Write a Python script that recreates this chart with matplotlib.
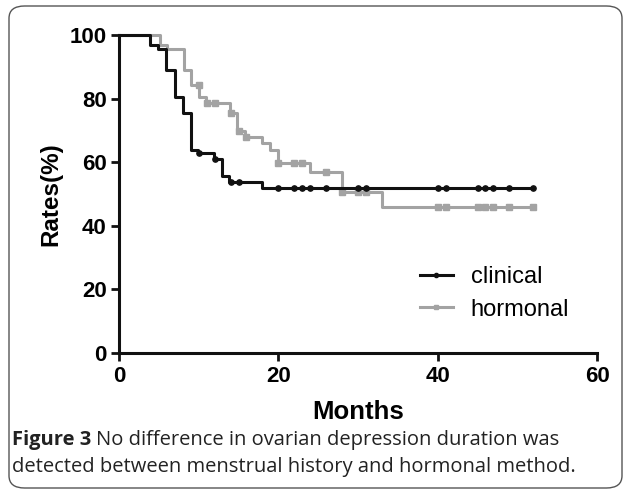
import numpy as np
import matplotlib
matplotlib.use("Agg")
import matplotlib.pyplot as plt
from matplotlib.patches import FancyBboxPatch
from matplotlib.lines import Line2D

# Kaplan-Meier step data (months, %)
clin_times = [0, 3.9, 4.9, 5.9, 7.0, 8.0, 9.0, 9.9, 11.9, 12.9, 13.8, 17.9, 52.0]
clin_surv = [100, 97.0, 95.5, 89.0, 80.6, 75.6, 63.8, 62.8, 60.9, 55.6, 53.9, 52.0, 52.0]
clin_censored = [10, 12, 14, 15, 20, 22, 23, 24, 26, 30, 31, 40, 41, 45, 46, 47, 49, 52]

horm_times = [0, 5.1, 6.0, 8.1, 9.1, 10.1, 10.9, 13.9, 14.8, 15.8, 17.9, 18.9,
              20.0, 24.0, 28.0, 33.0, 52.0]
horm_surv = [100, 97.0, 95.5, 89.0, 84.3, 80.6, 78.7, 75.4, 69.8, 68.0, 65.9, 63.8,
             59.6, 57.0, 50.7, 46.0, 46.0]
horm_censored = [10, 11, 12, 14, 15, 16, 20, 22, 23, 26, 28, 30, 31, 40, 41, 45, 46, 47, 49, 52]

x_ticks = [0, 20, 40, 60]
y_ticks = [0, 20, 40, 60, 80, 100]


def step_value(times, surv, t):
   # value of a right-continuous step curve at time t
   idx = np.searchsorted(times, t, side="right") - 1
   return np.asarray(surv)[idx]


plt.rcParams["font.family"] = ["Liberation Sans", "DejaVu Sans"]

fig = plt.figure(figsize=(6.25, 4.92), dpi=100)
ax = fig.add_axes([119 / 625, 1 - 353 / 492, (597 - 119) / 625, (353 - 35) / 492])

black = "#111111"
grey = "#a3a3a3"

# hormonal drawn first, clinical on top
ax.step(horm_times, horm_surv, where="post", color=grey, lw=2.2, clip_on=False, zorder=2)
ax.plot(horm_censored, step_value(horm_times, horm_surv, horm_censored),
        ls="none", marker="s", ms=3.8, color=grey, clip_on=False, zorder=2)

ax.step(clin_times, clin_surv, where="post", color=black, lw=2.2, clip_on=False, zorder=3)
ax.plot(clin_censored, step_value(clin_times, clin_surv, clin_censored),
        ls="none", marker="o", ms=3.8, color=black, clip_on=False, zorder=3)

ax.set_xlim(0, 60)
ax.set_ylim(0, 100)
ax.set_xticks(x_ticks)
ax.set_yticks(y_ticks)
ax.tick_params(width=2.0, length=6, labelsize=16, pad=3, color=black)
for lbl in ax.get_xticklabels() + ax.get_yticklabels():
   lbl.set_fontweight("bold")

for side in ["top", "right"]:
   ax.spines[side].set_visible(False)
for side in ["left", "bottom"]:
   ax.spines[side].set_linewidth(2.2)
   ax.spines[side].set_color(black)

ax.set_xlabel("Months", fontsize=18.5, fontweight="bold", labelpad=10)
ax.set_ylabel("Rates(%)", fontsize=17.5, fontweight="bold", labelpad=5)

handles = [
   Line2D([], [], color=black, lw=2.2, marker="o", ms=3),
   Line2D([], [], color=grey, lw=2.2, marker="s", ms=3),
]
ax.legend(handles, ["clinical", "hormonal"], loc="upper left",
          bbox_to_anchor=(0.585, 0.34), frameon=False, fontsize=17,
          handlelength=1.4, handletextpad=0.75, labelspacing=0.45)

# rounded border around the figure panel
fig.patches.append(FancyBboxPatch(
   (9 / 625, 4 / 492), 613 / 625, 482 / 492,
   boxstyle="round,pad=0,rounding_size=0.025",
   transform=fig.transFigure, fill=False, ec="#555555", lw=1.0))

# caption
cap_font = ["Open Sans", "DejaVu Sans"]
cap_size = 14.5
t = fig.text(12 / 625, 1 - 440 / 492, "Figure 3", fontsize=cap_size, fontweight="bold",
             family=cap_font, color="#222222", va="center")
fig.canvas.draw()
bb = t.get_window_extent()
fig.text(bb.x1 / 625 + 0.008, 1 - 440 / 492,
         "No difference in ovarian depression duration was",
         fontsize=cap_size, family=cap_font, color="#222222", va="center")
fig.text(12 / 625, 1 - 467 / 492,
         "detected between menstrual history and hormonal method.",
         fontsize=cap_size, family=cap_font, color="#222222", va="center")

fig.savefig("out.png", dpi=100)
